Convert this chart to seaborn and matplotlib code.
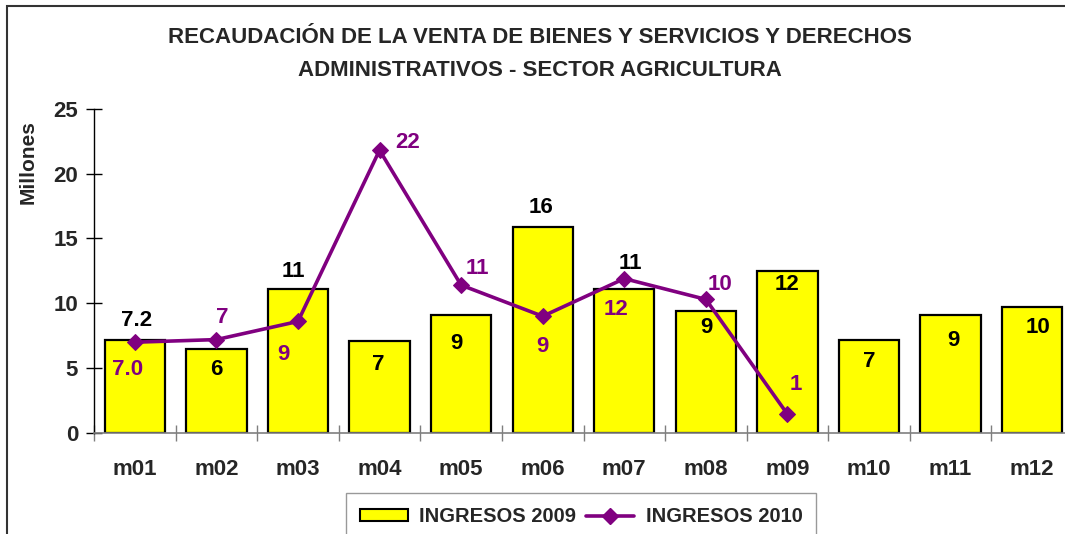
import matplotlib
matplotlib.use("Agg")
import matplotlib.pyplot as plt
from matplotlib.patches import Rectangle, Patch
from matplotlib.lines import Line2D
from matplotlib.ticker import FixedLocator
import numpy as np
import pandas as pd
import seaborn as sns

# ---- data (millions) ----
months = ["m01", "m02", "m03", "m04", "m05", "m06",
          "m07", "m08", "m09", "m10", "m11", "m12"]
ingresos_2009 = [7.2, 6.5, 11.1, 7.1, 9.1, 15.9, 11.1, 9.4, 12.5, 7.2, 9.1, 9.7]
ingresos_2010 = [7.0, 7.2, 8.6, 21.8, 11.4, 9.0, 11.9, 10.3, 1.45]
decimals_2009 = [1, 0, 0, 0, 0, 0, 0, 0, 0, 0, 0, 0]
decimals_2010 = [1, 0, 0, 0, 0, 0, 0, 0, 0]
y_ticks = [0, 5, 10, 15, 20, 25]

title_lines = ["RECAUDACIÓN DE LA VENTA DE BIENES Y SERVICIOS Y DERECHOS",
               "ADMINISTRATIVOS - SECTOR AGRICULTURA"]
y_label = "Millones"
legend_labels = ["INGRESOS 2009", "INGRESOS 2010"]

# ---- label placement (pixel offsets from the value point) ----
off_2009 = [(2, 19), (0, -21), (-5, 18), (-1, -24), (-5, -29), (-2, 19),
            (6, 26), (1, -16), (0, -14), (0, -22), (3, -26), (6, -20)]
off_2010 = [(-7, -27), (6, 22), (-15, -33), (28, 8), (16, 17), (0, -30),
            (-8, -31), (14, 15), (8, 30)]

YELLOW = "#FFFF00"
PURPLE = "#800080"

sns.set_style("white")
plt.rcParams["font.family"] = ["Liberation Sans", "DejaVu Sans"]
plt.rcParams["font.weight"] = "bold"

W, H, DPI = 1065, 534, 100
fig = plt.figure(figsize=(W / DPI, H / DPI), dpi=DPI)
fig.patch.set_facecolor("white")

# axes box: x from 94 px to 1073 px, y from 433 px (0) to 108.7 px (25)
ax = fig.add_axes([94 / W, 1 - 433 / H, (1073 - 94) / W, (433 - 108.7) / H])

df09 = pd.DataFrame({"mes": months, "valor": ingresos_2009})
sns.barplot(data=df09, x="mes", y="valor", color=YELLOW, saturation=1,
            width=0.74, edgecolor="black", linewidth=1.6, ax=ax, zorder=2)

df10 = pd.DataFrame({"pos": np.arange(len(ingresos_2010)), "valor": ingresos_2010})
sns.lineplot(data=df10, x="pos", y="valor", color=PURPLE, linewidth=2.6,
             marker="D", markersize=8.5, markeredgecolor=PURPLE, ax=ax, zorder=4)

ax.set_xlim(-0.5, len(months) - 0.5)
ax.set_ylim(0, 25)
ax.set_xlabel("")
ax.set_ylabel("")

# value labels
for i, (v, d, (dx, dy)) in enumerate(zip(ingresos_2009, decimals_2009, off_2009)):
    ax.annotate(f"{v:.{d}f}", (i, v), xytext=(dx, dy), textcoords="offset pixels",
                ha="center", va="center", fontsize=16, fontweight="bold",
                color="black", zorder=5)
for i, (v, d, (dx, dy)) in enumerate(zip(ingresos_2010, decimals_2010, off_2010)):
    ax.annotate(f"{v:.{d}f}", (i, v), xytext=(dx, dy), textcoords="offset pixels",
                ha="center", va="center", fontsize=16, fontweight="bold",
                color=PURPLE, zorder=5)

# spines and ticks
for s in ["top", "right"]:
    ax.spines[s].set_visible(False)
ax.spines["left"].set_color("black")
ax.spines["left"].set_linewidth(1.0)
ax.spines["bottom"].set_color("#7f7f7f")
ax.spines["bottom"].set_linewidth(1.2)

ax.yaxis.set_major_locator(FixedLocator(y_ticks))
ax.tick_params(axis="y", which="major", direction="inout", length=11, width=1,
               color="black", labelsize=16, pad=6, left=True)
ax.set_xticks(range(len(months)))
ax.set_xticklabels(months)
ax.tick_params(axis="x", which="major", length=0, labelsize=16, pad=19)
ax.xaxis.set_minor_locator(FixedLocator(np.arange(-0.5, len(months), 1.0)))
ax.tick_params(axis="x", which="minor", direction="inout", length=11, width=1,
               color="#7f7f7f", bottom=True)
for lab in ax.get_xticklabels() + ax.get_yticklabels():
    lab.set_fontweight("bold")

# two-line chart title
for line, y_px in zip(title_lines, [37, 70]):
    fig.text(540 / W, 1 - y_px / H, line, ha="center", va="center",
             fontsize=16, fontweight="bold")
fig.text(28 / W, 1 - 162 / H, y_label, rotation=90, ha="center", va="center",
         fontsize=15, fontweight="bold")

# legend
handles = [Patch(facecolor=YELLOW, edgecolor="black", linewidth=1.5),
           Line2D([0], [0], color=PURPLE, linewidth=2.6, marker="D",
                  markersize=8.5)]
leg = fig.legend(handles, legend_labels, loc="upper center",
                 bbox_to_anchor=(581 / W, 1 - 493 / H), ncol=2,
                 frameon=True, fancybox=False, borderpad=0.7,
                 handlelength=2.4, handleheight=0.5, handletextpad=0.55,
                 columnspacing=0.5, borderaxespad=0,
                 prop={"size": 14.5, "weight": "bold"})
leg.get_frame().set_edgecolor("#808080")
leg.get_frame().set_linewidth(1.0)

# outer chart frame
fig.add_artist(Rectangle((7 / W, -0.1), 1.2, 0.1 + (H - 6) / H,
                         transform=fig.transFigure, fill=False,
                         edgecolor="#333333", linewidth=1.5, clip_on=False))

fig.savefig("out.png", dpi=DPI, facecolor="white")
